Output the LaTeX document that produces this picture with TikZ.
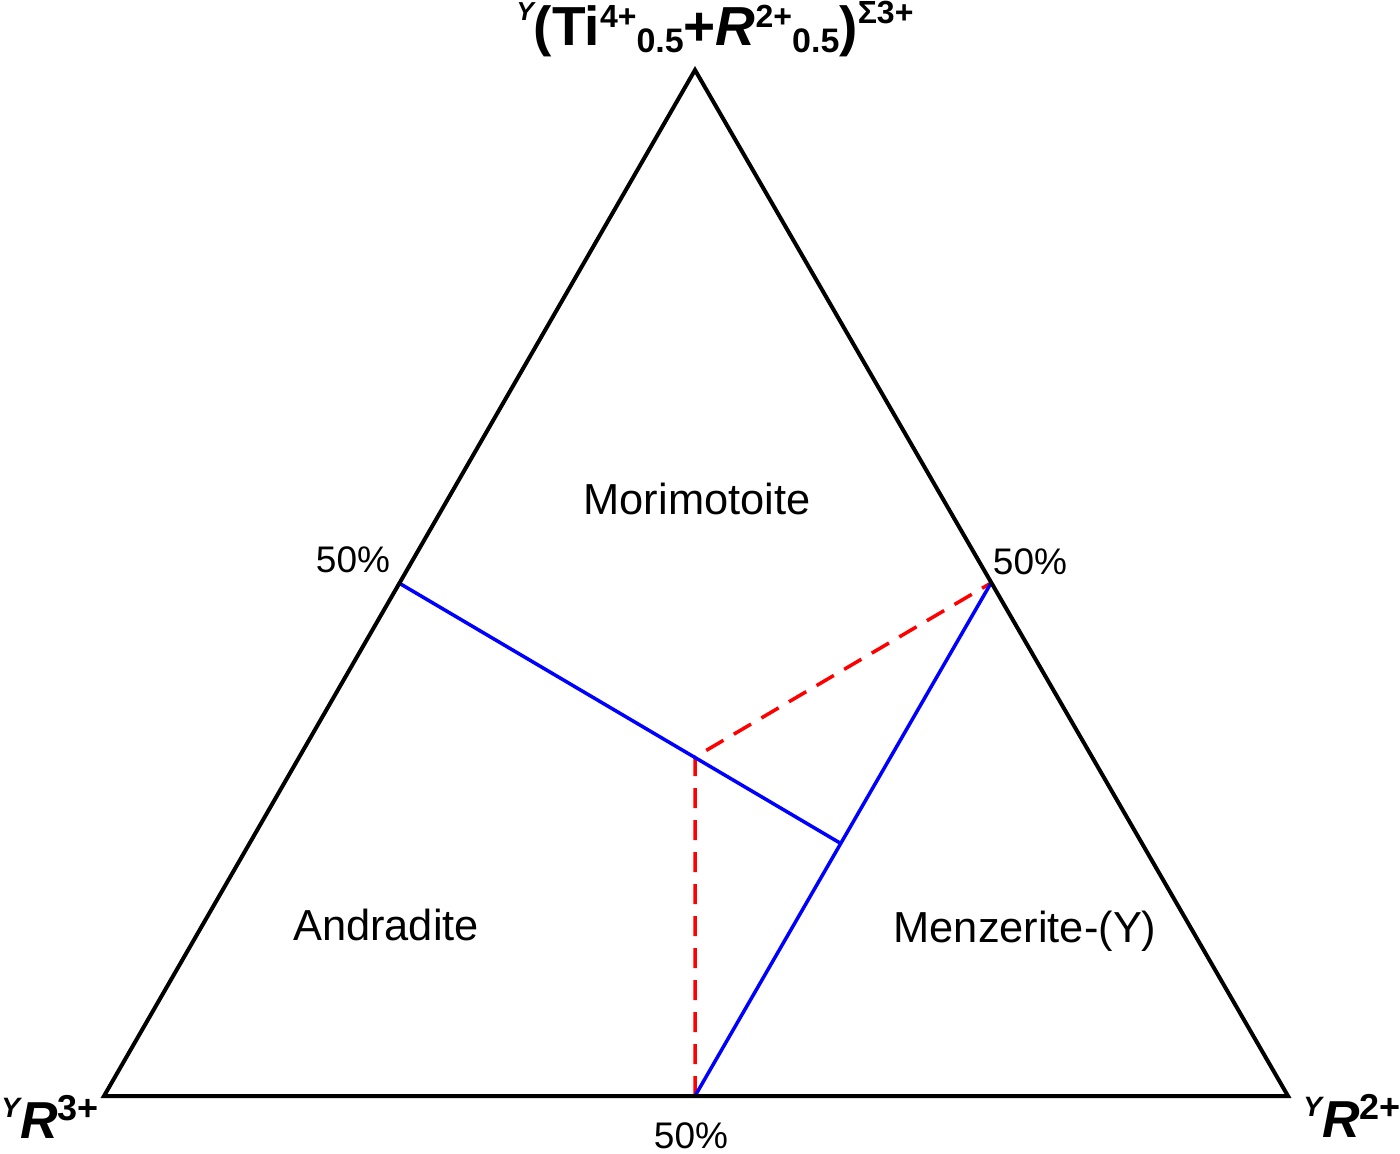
\documentclass[tikz,border=0pt]{standalone}
\usepackage{fontspec}
\setmainfont{Liberation Sans}
\begin{document}
\begin{tikzpicture}[x=0.5pt,y=-0.5pt,
  edge/.style={line width=2pt,line join=miter},
  blueln/.style={line width=1.75pt,color=blue},
  redln/.style={line width=1.75pt,color=red,dash pattern=on 10pt off 6pt},
  field/.style={font=\fontsize{21.7}{24}\selectfont,inner sep=0pt,anchor=base},
  pct/.style={font=\fontsize{18.5}{20}\selectfont,inner sep=0pt,anchor=base},
  corner/.style={font=\fontsize{26}{28}\selectfont\bfseries,inner sep=0pt,anchor=base west}]
\useasboundingbox (0,0) rectangle (1400,1153);
\coordinate (A) at (104,1096);
\coordinate (B) at (1288,1096);
\coordinate (C) at (695,70);
\coordinate (mL) at (399,583);
\coordinate (mR) at (991,583);
\coordinate (mB) at (695,1096);
\coordinate (P) at (695,757);
\coordinate (Q) at (840,843);
% red dashed
\draw[redln] (mB) -- (P) -- (mR);
% blue
\draw[blueln] (mL) -- (Q);
\draw[blueln] (mR) -- (mB);
% triangle
\draw[edge] (A) -- (B) -- (C) -- cycle;
% labels
\node[field] (mori) at (697,514) {Morimotoite};
\node[field] (andr) at (386,940) {Andradite};
\node[field] (menz) at (1025,942) {Menzerite-(Y)};
\node[pct] (pl) at (353,572) {50\%};
\node[pct] (pr) at (1030,574) {50\%};
\node[pct] (pb) at (691,1148) {50\%};
\node[inner sep=0pt,anchor=base,font=\fontsize{27.5}{30}\selectfont\bfseries] (top) at (715,45)
 {\raisebox{0.45em}{\fontsize{13}{13}\selectfont\itshape Y}(Ti\raisebox{0.32em}{\fontsize{16}{16}\selectfont 4+}\raisebox{-0.13em}{\fontsize{17}{17}\selectfont 0.5}+\textit{R}\raisebox{0.32em}{\fontsize{16}{16}\selectfont 2+}\raisebox{-0.13em}{\fontsize{17}{17}\selectfont 0.5})\raisebox{0.4em}{\fontsize{16}{16}\selectfont Σ3+}};
\node[corner] (cl) at (1,1138) {\raisebox{0.4em}{\fontsize{14}{14}\selectfont\itshape Y}\textit{R}\raisebox{0.33em}{\fontsize{18}{18}\selectfont 3+}};
\node[corner] (cr) at (1303,1137) {\raisebox{0.4em}{\fontsize{14}{14}\selectfont\itshape Y}\textit{R}\raisebox{0.33em}{\fontsize{18}{18}\selectfont 2+}};
\end{tikzpicture}
\end{document}
